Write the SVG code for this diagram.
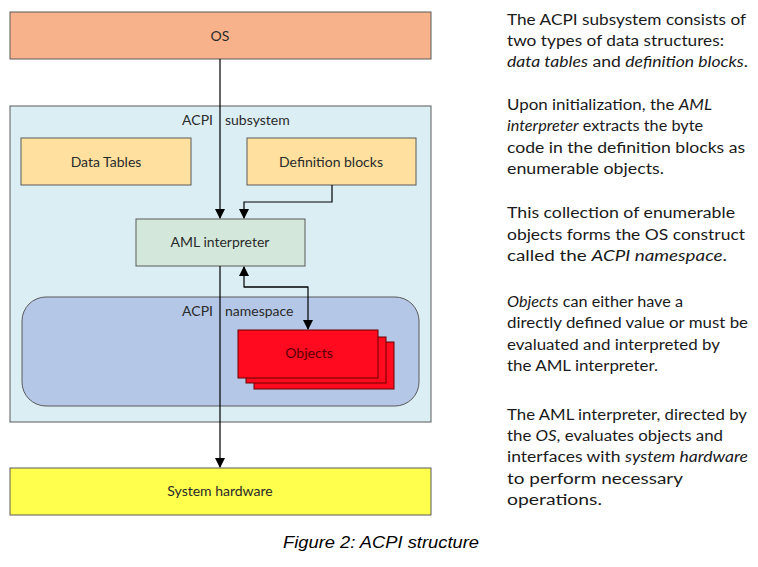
<svg xmlns="http://www.w3.org/2000/svg" width="758" height="567" viewBox="0 0 758 567">
<style>
.box{stroke:#5a5a5a;stroke-width:1}
.lbl{font-family:Lato,"Liberation Sans",sans-serif;font-size:14px;fill:#2a2a2a}
.conn{fill:none;stroke:#000;stroke-width:1.2}
.side{font-family:Lato,"Liberation Sans",sans-serif;font-size:15.5px;fill:#1a1a1a}
.cap{font-family:"Liberation Sans",Arial,sans-serif;font-style:italic;font-size:17px;fill:#000}
</style>
<defs>
<marker id="arr" markerWidth="10" markerHeight="12" refX="9" refY="5" orient="auto" markerUnits="userSpaceOnUse">
<path d="M0,0 L10,5 L0,10 z" fill="#000"/>
</marker>
</defs>
<rect width="758" height="567" fill="#fff"/>

<g id="os">
<rect class="box" x="10" y="12" width="421" height="47" fill="#F7B28B"/>
<text class="lbl" x="220" y="41" text-anchor="middle">OS</text>
</g>

<g id="acpi-subsystem">
<rect class="box" x="10" y="106" width="421" height="316" fill="#DBEEF4"/>
<text class="lbl" x="213" y="125" text-anchor="end">ACPI</text>
<text class="lbl" x="225" y="125">subsystem</text>
</g>

<g id="data-tables">
<rect class="box" x="21" y="138" width="170" height="47" fill="#FFE09E"/>
<text class="lbl" x="106" y="167" text-anchor="middle">Data Tables</text>
</g>

<g id="definition-blocks">
<rect class="box" x="247" y="138" width="169" height="47" fill="#FFE09E"/>
<text class="lbl" x="331" y="167" text-anchor="middle">Definition blocks</text>
</g>

<g id="aml-interpreter">
<rect class="box" x="136" y="219" width="169" height="47" fill="#D3E8DA"/>
<text class="lbl" x="220" y="247" text-anchor="middle">AML interpreter</text>
</g>

<g id="acpi-namespace">
<rect class="box" x="22" y="297" width="397" height="109" rx="24" ry="24" fill="#B4C7E7"/>
<text class="lbl" x="213" y="316" text-anchor="end">ACPI</text>
<text class="lbl" x="225" y="316">namespace</text>
</g>

<g id="objects">
<rect x="254" y="342" width="140" height="47" fill="#FF0A1E" stroke="#6a0000" stroke-width="1"/>
<rect x="246" y="337" width="140" height="46" fill="#FF0A1E" stroke="#6a0000" stroke-width="1"/>
<rect x="238" y="330" width="140" height="48" fill="#FF0A1E" stroke="#6a0000" stroke-width="1"/>
<text class="lbl" x="309" y="358" text-anchor="middle" fill="#5a0008" style="fill:#5a0008">Objects</text>
</g>

<g id="system-hardware">
<rect class="box" x="10" y="468" width="421" height="47" fill="#FFFF4D"/>
<text class="lbl" x="220" y="496" text-anchor="middle">System hardware</text>
</g>

<g id="connectors">
<line class="conn" x1="220" y1="59" x2="220" y2="218" marker-end="url(#arr)"/>
<polyline class="conn" points="332,185 332,202 244,202 244,218" marker-end="url(#arr)"/>
<polyline class="conn" points="308,287 244,287 244,267" marker-end="url(#arr)"/>
<polyline class="conn" points="244,287 308,287 308,329" marker-end="url(#arr)"/>
<line class="conn" x1="220" y1="266" x2="220" y2="467" marker-end="url(#arr)"/>
</g>

<g id="description">
<text class="side" x="507" y="25" textLength="239" lengthAdjust="spacingAndGlyphs">The ACPI subsystem consists of</text>
<text class="side" x="507" y="46" textLength="217" lengthAdjust="spacingAndGlyphs">two types of data structures:</text>
<text class="side" x="507" y="67" textLength="241" lengthAdjust="spacingAndGlyphs"><tspan font-style="italic">data tables</tspan> and <tspan font-style="italic">definition blocks</tspan>.</text>

<text class="side" x="507" y="110" textLength="205" lengthAdjust="spacingAndGlyphs">Upon initialization, the <tspan font-style="italic">AML</tspan></text>
<text class="side" x="507" y="131" textLength="196" lengthAdjust="spacingAndGlyphs"><tspan font-style="italic">interpreter</tspan> extracts the byte</text>
<text class="side" x="507" y="153" textLength="238" lengthAdjust="spacingAndGlyphs">code in the definition blocks as</text>
<text class="side" x="507" y="174" textLength="157" lengthAdjust="spacingAndGlyphs">enumerable objects.</text>

<text class="side" x="507" y="218" textLength="228" lengthAdjust="spacingAndGlyphs">This collection of enumerable</text>
<text class="side" x="507" y="240" textLength="238" lengthAdjust="spacingAndGlyphs">objects forms the OS construct</text>
<text class="side" x="507" y="261" textLength="220" lengthAdjust="spacingAndGlyphs">called the <tspan font-style="italic">ACPI namespace</tspan>.</text>

<text class="side" x="507" y="307" textLength="176" lengthAdjust="spacingAndGlyphs"><tspan font-style="italic">Objects</tspan> can either have a</text>
<text class="side" x="507" y="328" textLength="241" lengthAdjust="spacingAndGlyphs">directly defined value or must be</text>
<text class="side" x="507" y="350" textLength="213" lengthAdjust="spacingAndGlyphs">evaluated and interpreted by</text>
<text class="side" x="507" y="371" textLength="151" lengthAdjust="spacingAndGlyphs">the AML interpreter.</text>

<text class="side" x="507" y="420" textLength="240" lengthAdjust="spacingAndGlyphs">The AML interpreter, directed by</text>
<text class="side" x="507" y="441" textLength="216" lengthAdjust="spacingAndGlyphs">the <tspan font-style="italic">OS</tspan>, evaluates objects and</text>
<text class="side" x="507" y="462" textLength="241" lengthAdjust="spacingAndGlyphs">interfaces with <tspan font-style="italic">system hardware</tspan></text>
<text class="side" x="507" y="484" textLength="176" lengthAdjust="spacingAndGlyphs">to perform necessary</text>
<text class="side" x="507" y="505" textLength="95" lengthAdjust="spacingAndGlyphs">operations.</text>
</g>

<text class="cap" x="283" y="548" textLength="196" lengthAdjust="spacingAndGlyphs">Figure 2: ACPI structure</text>
</svg>
